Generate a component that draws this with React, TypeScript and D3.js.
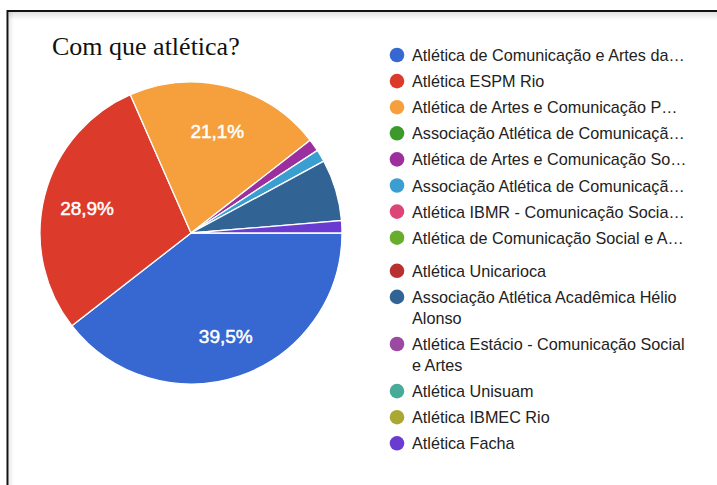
import React from "react";
import * as d3 from "d3";

const title = "Com que atlética?";

const categories: string[][] = [
  ["Atlética de Comunicação e Artes da…"],
  ["Atlética ESPM Rio"],
  ["Atlética de Artes e Comunicação P…"],
  ["Associação Atlética de Comunicaçã…"],
  ["Atlética de Artes e Comunicação So…"],
  ["Associação Atlética de Comunicaçã…"],
  ["Atlética IBMR - Comunicação Socia…"],
  ["Atlética de Comunicação Social e A…"],
  ["Atlética Unicarioca"],
  ["Associação Atlética Acadêmica Hélio", "Alonso"],
  ["Atlética Estácio - Comunicação Social", "e Artes"],
  ["Atlética Unisuam"],
  ["Atlética IBMEC Rio"],
  ["Atlética Facha"],
];

const counts = [30, 22, 16, 0, 1, 1, 0, 0, 0, 5, 0, 0, 0, 1];

const colors = [
  "#3767d0", "#dc3a2a", "#f5a03c", "#3b9a2b", "#9b2f9e", "#3a9fd0", "#dd4477",
  "#68ad2c", "#b83030", "#316395", "#9a4aa0", "#48ab99", "#aaa833", "#6a3bd0",
];

const percentLabels = ["39,5%", "28,9%", "21,1%"];

export default function App() {
  const W = 717, H = 485;
  const cx = 191, cy = 233, r = 151;
  const total = d3.sum(counts);
  const pie = d3
    .pie<number>()
    .sort(null)
    .value((d) => d)
    .startAngle(Math.PI / 2)
    .endAngle(Math.PI / 2 + 2 * Math.PI);
  const arcs = pie(counts);
  const arc = d3.arc<d3.PieArcDatum<number>>().innerRadius(0).outerRadius(r);
  const labelArc = d3.arc<d3.PieArcDatum<number>>().innerRadius(r * 0.71).outerRadius(r * 0.71);

  // legend layout
  const legendRows: { y: number; lines: string[]; color: string }[] = [];
  let y = 55;
  categories.forEach((lines, i) => {
    if (i === 8) y += 7;
    legendRows.push({ y, lines, color: colors[i] });
    y += 26.1 + (lines.length - 1) * 21;
  });

  return (
    <svg
      width={W}
      height={H}
      style={{ position: "absolute", left: 0, top: 0, background: "#fff" }}
      fontFamily="'Liberation Sans', Arial, sans-serif"
    >
      <defs>
        <linearGradient id="shT" x1="0" y1="0" x2="0" y2="1">
          <stop offset="0" stopColor="#000" stopOpacity={0.12} />
          <stop offset="1" stopColor="#000" stopOpacity={0} />
        </linearGradient>
        <linearGradient id="shL" x1="0" y1="0" x2="1" y2="0">
          <stop offset="0" stopColor="#000" stopOpacity={0.08} />
          <stop offset="1" stopColor="#000" stopOpacity={0} />
        </linearGradient>
      </defs>
      <rect x={0} y={0} width={W} height={H} fill="#fff" />
      <rect x={9} y={12} width={W - 9} height={8} fill="url(#shT)" />
      <rect x={9} y={12} width={5} height={H - 12} fill="url(#shL)" />
      <line x1={7.5} y1={11} x2={W} y2={11} stroke="#111" strokeWidth={2} />
      <line x1={7.5} y1={10} x2={7.5} y2={H} stroke="#111" strokeWidth={2} />

      <text
        x={52}
        y={55}
        fontFamily="'Liberation Serif', 'Times New Roman', serif"
        fontSize={26}
        fill="#111"
      >
        {title}
      </text>

      <g transform={`translate(${cx},${cy})`}>
        {arcs.map((a, i) =>
          a.value > 0 ? (
            <path key={i} d={arc(a) || ""} fill={colors[i]} stroke="#fff" strokeWidth={1.3} />
          ) : null
        )}
        {arcs.slice(0, 3).map((a, i) => {
          const [lx, ly] = labelArc.centroid(a);
          return (
            <text
              key={i}
              x={lx}
              y={ly + 2}
              textAnchor="middle"
              dominantBaseline="central"
              fill="#fff"
              stroke="#fff"
              strokeWidth={0.5}
              fontSize={19}
            >
              {percentLabels[i] ?? `${((a.value / total) * 100).toFixed(1)}%`}
            </text>
          );
        })}
      </g>

      <g>
        {legendRows.map((row, i) => (
          <g key={i}>
            <circle cx={397} cy={row.y} r={7.3} fill={row.color} />
            {row.lines.map((ln, j) => (
              <text
                key={j}
                x={412}
                y={row.y + j * 21}
                dominantBaseline="central"
                fontSize={16.2}
                fill="#222"
              >
                {ln}
              </text>
            ))}
          </g>
        ))}
      </g>
    </svg>
  );
}
